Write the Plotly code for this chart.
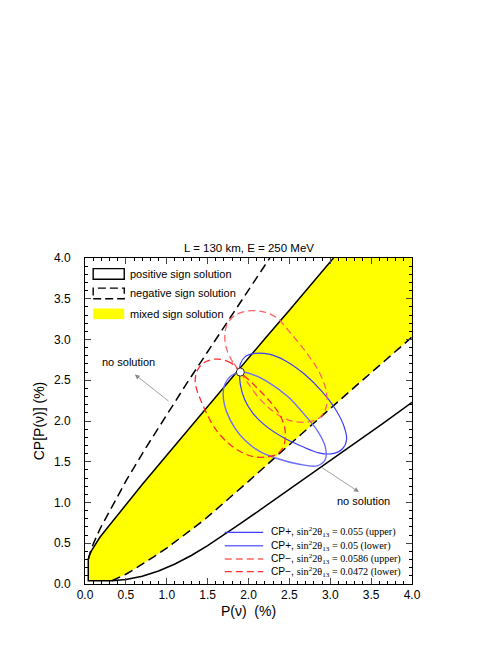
import plotly.graph_objects as go

# %% data (P in %, CP in %)
# upper boundary, positive sign solution (solid)
pos_up_x = [0.04, 0.05, 0.08, 0.12, 0.18, 0.25, 0.35, 0.50, 0.70, 1.00, 1.30, 1.60, 1.90, 2.20, 2.50, 2.80, 3.04]
pos_up_y = [0.30, 0.34, 0.41, 0.48, 0.57, 0.66, 0.785, 0.97, 1.22, 1.58, 1.94, 2.30, 2.66, 3.01, 3.36, 3.72, 4.00]
# lower boundary, positive sign solution (solid)
pos_lo_x = [0.33, 0.50, 0.70, 0.90, 1.10, 1.30, 1.50, 1.70, 1.90, 2.10, 2.40, 2.70, 3.00, 3.30, 3.65, 4.00]
pos_lo_y = [0.04, 0.055, 0.095, 0.16, 0.245, 0.35, 0.47, 0.60, 0.74, 0.88, 1.09, 1.30, 1.51, 1.72, 1.975, 2.23]
# upper boundary, negative sign solution (dashed)
neg_up_x = [0.04, 0.05, 0.07, 0.10, 0.14, 0.19, 0.25, 0.35, 0.51, 0.75, 1.00, 1.25, 1.50, 1.75, 2.00, 2.26]
neg_up_y = [0.30, 0.35, 0.41, 0.49, 0.58, 0.69, 0.80, 0.99, 1.28, 1.68, 2.08, 2.47, 2.85, 3.23, 3.61, 4.00]
# lower boundary, negative sign solution (dashed)
neg_lo_x = [0.33, 0.42, 0.50, 0.60, 0.70, 0.85, 1.00, 1.15, 1.30, 1.45, 1.60, 1.80, 2.00, 2.40, 2.80, 3.20, 3.60, 4.00]
neg_lo_y = [0.04, 0.08, 0.12, 0.18, 0.24, 0.34, 0.44, 0.55, 0.66, 0.78, 0.91, 1.08, 1.26, 1.62, 1.98, 2.33, 2.68, 3.03]
# corner of the allowed region near the origin
corner_x = [0.04, 0.04, 0.33]
corner_y = [0.30, 0.04, 0.04]
# right-hand corners of the plot that close the mixed region
top_x = [4.00, 4.00]
top_y = [4.00, 3.03]

# CP+ ellipses
cpp_up_x = [1.89, 1.90, 1.96, 2.08, 2.25, 2.45, 2.69, 2.90, 3.06, 3.17, 3.20, 3.15, 3.03, 2.86, 2.65, 2.42, 2.21, 2.05, 1.95, 1.90, 1.89]
cpp_up_y = [2.60, 2.70, 2.79, 2.83, 2.82, 2.74, 2.57, 2.36, 2.15, 1.93, 1.77, 1.66, 1.60, 1.61, 1.69, 1.80, 1.94, 2.10, 2.27, 2.45, 2.60]
cpp_lo_x = [1.90, 2.05, 2.22, 2.48, 2.70, 2.85, 2.94, 2.94, 2.84, 2.62, 2.35, 2.13, 1.96, 1.83, 1.73, 1.69, 1.71, 1.78, 1.90]
cpp_lo_y = [2.60, 2.57, 2.49, 2.30, 2.06, 1.87, 1.68, 1.53, 1.45, 1.47, 1.54, 1.63, 1.76, 1.92, 2.12, 2.32, 2.45, 2.55, 2.60]
# CP- ellipses
cpm_up_x = [1.90, 1.81, 1.74, 1.71, 1.74, 1.84, 2.00, 2.18, 2.34, 2.53, 2.70, 2.86, 2.95, 2.95, 2.87, 2.73, 2.58, 2.44, 2.30, 2.13, 1.99, 1.90]
cpm_up_y = [2.60, 2.72, 2.86, 3.02, 3.19, 3.30, 3.35, 3.34, 3.27, 3.06, 2.85, 2.61, 2.37, 2.17, 2.04, 1.99, 1.99, 2.03, 2.12, 2.28, 2.47, 2.60]
cpm_lo_x = [1.90, 1.79, 1.63, 1.48, 1.39, 1.35, 1.36, 1.41, 1.48, 1.59, 1.75, 1.91, 2.07, 2.23, 2.36, 2.43, 2.45, 2.44, 2.38, 2.28, 2.16, 2.03, 1.90]
cpm_lo_y = [2.60, 2.71, 2.76, 2.73, 2.65, 2.53, 2.41, 2.27, 2.11, 1.91, 1.73, 1.62, 1.56, 1.56, 1.60, 1.69, 1.80, 1.93, 2.08, 2.22, 2.35, 2.48, 2.60]

# true point
true_x = [1.90]
true_y = [2.60]

ellipse_labels = [
    '<span style="font-family:Liberation Sans">CP+, </span>sin<sup>2</sup>2θ<sub>13</sub> = 0.055 (upper)',
    '<span style="font-family:Liberation Sans">CP+, </span>sin<sup>2</sup>2θ<sub>13</sub> = 0.05 (lower)',
    '<span style="font-family:Liberation Sans">CP−, </span>sin<sup>2</sup>2θ<sub>13</sub> = 0.0586 (upper)',
    '<span style="font-family:Liberation Sans">CP−, </span>sin<sup>2</sup>2θ<sub>13</sub> = 0.0472 (lower)',
]
ellipse_colors = ['#3c3cff', '#6e6eff', '#ff6464', '#ff2e2e']
ellipse_dash = ['solid', 'solid', '7px,4px', '7px,4px']
ellipse_width = [1.2, 1.4, 1.3, 1.3]

box_labels = ['positive sign solution', 'negative sign solution', 'mixed sign solution']

# %%
fig = go.Figure()

# yellow mixed sign region
mix_x = pos_up_x + top_x + neg_lo_x[::-1] + corner_x[::-1]
mix_y = pos_up_y + top_y + neg_lo_y[::-1] + corner_y[::-1]
fig.add_trace(go.Scatter(x=mix_x, y=mix_y, fill='toself', fillcolor='#ffff00',
                         mode='lines', line=dict(width=0), hoverinfo='skip'))

black = dict(color='black', width=1.5)
fig.add_trace(go.Scatter(x=pos_up_x, y=pos_up_y, mode='lines', line=black))
fig.add_trace(go.Scatter(x=pos_lo_x, y=pos_lo_y, mode='lines', line=black))
fig.add_trace(go.Scatter(x=corner_x, y=corner_y, mode='lines', line=black))
fig.add_trace(go.Scatter(x=neg_up_x, y=neg_up_y, mode='lines', line=dict(black, dash='9px,5px')))
fig.add_trace(go.Scatter(x=neg_lo_x, y=neg_lo_y, mode='lines', line=dict(black, dash='9px,5px')))

ell = [(cpp_up_x, cpp_up_y), (cpp_lo_x, cpp_lo_y), (cpm_up_x, cpm_up_y), (cpm_lo_x, cpm_lo_y)]
for i, (ex, ey) in enumerate(ell):
    fig.add_trace(go.Scatter(x=ex, y=ey, mode='lines',
                             line=dict(color=ellipse_colors[i], width=ellipse_width[i],
                                       dash=ellipse_dash[i], shape='spline', smoothing=1.0)))

fig.add_trace(go.Scatter(x=true_x, y=true_y, mode='markers',
                         marker=dict(size=8, color='white', line=dict(color='black', width=0.8))))

# legend boxes, upper left
box_y = [(3.74, 3.87), (3.50, 3.63), (3.25, 3.38)]
for i, (y0, y1) in enumerate(box_y):
    if i == 2:
        fig.add_shape(type='rect', x0=0.10, x1=0.48, y0=y0, y1=y1,
                      fillcolor='#ffff00', line=dict(width=0))
    else:
        fig.add_shape(type='rect', x0=0.10, x1=0.48, y0=y0, y1=y1,
                      line=dict(color='black', width=1.4, dash='solid' if i == 0 else '8px,4px'))
    fig.add_annotation(x=0.53, y=(y0 + y1) / 2, text=box_labels[i], showarrow=False,
                       xanchor='left', font=dict(size=11))

# legend lines, lower right
leg_y = [0.634, 0.470, 0.307, 0.151]
for i, ly in enumerate(leg_y):
    fig.add_shape(type='line', x0=1.71, x1=2.18, y0=ly, y1=ly,
                  line=dict(color=ellipse_colors[i], width=ellipse_width[i], dash=ellipse_dash[i]))
    fig.add_annotation(x=2.25, y=ly, text=ellipse_labels[i], showarrow=False, xanchor='left',
                       font=dict(size=10.2, family='Liberation Serif'))

# "no solution" labels and arrows
fig.add_annotation(x=0.53, y=2.73, text='no solution', showarrow=False, font=dict(size=11))
fig.add_annotation(x=3.41, y=1.02, text='no solution', showarrow=False, font=dict(size=11))
fig.add_annotation(x=0.61, y=2.57, ax=1.04, ay=2.23, axref='x', ayref='y', text='',
                   showarrow=True, arrowhead=2, arrowsize=1.2, arrowwidth=0.8, arrowcolor='#888888')
fig.add_annotation(x=3.35, y=1.13, ax=2.88, ay=1.44, axref='x', ayref='y', text='',
                   showarrow=True, arrowhead=2, arrowsize=1.2, arrowwidth=0.8, arrowcolor='#888888')

fig.add_annotation(x=0.5, y=1, xref='paper', yref='paper', yanchor='bottom', yshift=2,
                   text='L = 130 km, E = 250 MeV', showarrow=False, font=dict(size=11.5))

axis = dict(range=[0, 4], dtick=0.5, tickformat='.1f', ticks='inside', ticklen=6,
            mirror='allticks', showline=True, linecolor='black', linewidth=1,
            showgrid=False, zeroline=False, tickfont=dict(size=12),
            minor=dict(ticks='inside', dtick=0.1, ticklen=3, tickcolor='black'))
fig.update_xaxes(axis, title=dict(text='P(ν)  (%)', font=dict(size=14), standoff=4))
fig.update_yaxes(axis, title=dict(text='CP[P(ν)] (%)', font=dict(size=14), standoff=6),
                 ticklabelstandoff=11)

# page body has an 8px margin, so the figure is drawn 8px smaller
fig.update_layout(width=490, height=637, showlegend=False,
                  margin=dict(l=77, r=86, t=250, b=61),
                  plot_bgcolor='white', paper_bgcolor='white',
                  font=dict(family='Liberation Sans', color='black'))

fig.write_html("out.html")
